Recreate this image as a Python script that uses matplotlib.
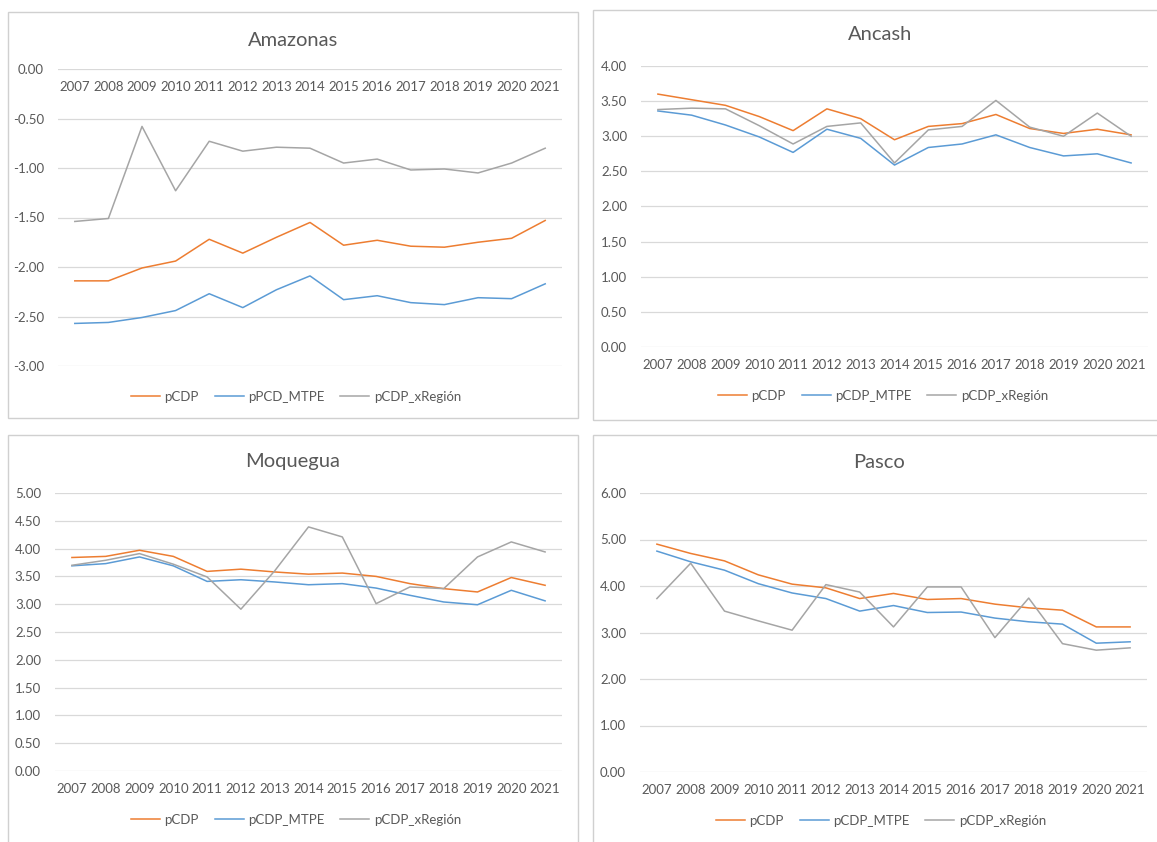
import matplotlib
matplotlib.use("Agg")
import matplotlib.pyplot as plt
from matplotlib.patches import Rectangle

plt.rcParams['font.family'] = ['Lato', 'DejaVu Sans']

years = [str(y) for y in range(2007, 2022)]

# Amazonas
amaz_pcdp = [-2.14, -2.14, -2.01, -1.94, -1.72, -1.86, -1.70, -1.55, -1.78, -1.73, -1.79, -1.80, -1.75, -1.71, -1.53]
amaz_mtpe = [-2.57, -2.56, -2.51, -2.44, -2.27, -2.41, -2.23, -2.09, -2.33, -2.29, -2.36, -2.38, -2.31, -2.32, -2.17]
amaz_xreg = [-1.54, -1.51, -0.58, -1.23, -0.73, -0.83, -0.79, -0.80, -0.95, -0.91, -1.02, -1.01, -1.05, -0.95, -0.80]

# Ancash
anca_pcdp = [3.60, 3.52, 3.44, 3.28, 3.08, 3.39, 3.25, 2.95, 3.14, 3.18, 3.31, 3.11, 3.04, 3.10, 3.02]
anca_mtpe = [3.36, 3.30, 3.16, 2.99, 2.77, 3.10, 2.97, 2.59, 2.84, 2.89, 3.02, 2.84, 2.72, 2.75, 2.62]
anca_xreg = [3.38, 3.40, 3.39, 3.15, 2.89, 3.14, 3.19, 2.62, 3.09, 3.14, 3.51, 3.13, 3.00, 3.33, 3.00]

# Moquegua
moqu_pcdp = [3.84, 3.86, 3.97, 3.86, 3.59, 3.63, 3.58, 3.54, 3.56, 3.50, 3.37, 3.28, 3.22, 3.48, 3.34]
moqu_mtpe = [3.69, 3.73, 3.85, 3.69, 3.41, 3.44, 3.40, 3.35, 3.37, 3.29, 3.16, 3.04, 2.99, 3.25, 3.06]
moqu_xreg = [3.70, 3.79, 3.91, 3.72, 3.49, 2.91, 3.60, 4.39, 4.21, 3.01, 3.31, 3.28, 3.85, 4.12, 3.94]

# Pasco
pasc_pcdp = [4.90, 4.70, 4.54, 4.24, 4.04, 3.96, 3.73, 3.84, 3.71, 3.73, 3.61, 3.53, 3.48, 3.12, 3.12]
pasc_mtpe = [4.75, 4.52, 4.34, 4.05, 3.85, 3.73, 3.46, 3.58, 3.43, 3.44, 3.31, 3.23, 3.18, 2.77, 2.80]
pasc_xreg = [3.73, 4.49, 3.46, 3.25, 3.05, 4.03, 3.87, 3.12, 3.98, 3.98, 2.89, 3.74, 2.76, 2.62, 2.67]

ORANGE, BLUE, GRAY = '#ED7D31', '#5B9BD5', '#A5A5A5'
TXT = '#595959'
GRID = '#D9D9D9'
FS = 9.5

W, H = 1157, 842
fig = plt.figure(figsize=(W / 100, H / 100), dpi=100)


def px_axes(x0, x1, ytop, ybot):
    return fig.add_axes([x0 / W, 1 - ybot / H, (x1 - x0) / W, (ybot - ytop) / H])


def frame(x0, y0, x1, y1):
    fig.patches.append(Rectangle((x0 / W, 1 - y1 / H), (x1 - x0) / W, (y1 - y0) / H,
                                 transform=fig.transFigure, fill=False,
                                 edgecolor='#D0D0D0', lw=1.0))


panels = [
    # title, series, labels, ylim, step, axes box (x0, x1, ytop, ybot), title pos, legend pos, frame, years at zero
    ("Amazonas", (amaz_pcdp, amaz_mtpe, amaz_xreg), ["pCDP", "pPCD_MTPE", "pCDP_xRegión"],
     (-3, 0), 0.5, (58, 562, 69, 366), (293, 40), (296, 397), (8, 12, 578, 418), True),
    ("Ancash", (anca_pcdp, anca_mtpe, anca_xreg), ["pCDP", "pCDP_MTPE", "pCDP_xRegión"],
     (0, 4), 0.5, (641, 1148, 66, 347), (880, 35), (883, 396), (593, 10, 1160, 420), False),
    ("Moquegua", (moqu_pcdp, moqu_mtpe, moqu_xreg), ["pCDP", "pCDP_MTPE", "pCDP_xRegión"],
     (0, 5), 0.5, (55, 562, 493, 771), (293, 461), (296, 820), (8, 435, 578, 845), False),
    ("Pasco", (pasc_pcdp, pasc_mtpe, pasc_xreg), ["pCDP", "pCDP_MTPE", "pCDP_xRegión"],
     (0, 6), 1.0, (640, 1147, 493, 772), (879, 462), (881, 821), (593, 435, 1160, 845), False),
]

for title, series, labels, ylim, step, box, tpos, lpos, fr, at_zero in panels:
    frame(*fr)
    ax = px_axes(*box)
    x = list(range(len(years)))
    handles = []
    for vals, col, lab in zip(series, (ORANGE, BLUE, GRAY), labels):
        h, = ax.plot(x, vals, color=col, lw=1.1, label=lab, zorder=3)
        handles.append(h)
    ax.set_xlim(-0.5, len(years) - 0.5)
    ax.set_ylim(*ylim)
    n = int(round((ylim[1] - ylim[0]) / step))
    ticks = [ylim[0] + i * step for i in range(n + 1)]
    ax.set_yticks(ticks)
    ax.set_yticklabels([f"{t:.2f}" for t in ticks])
    ax.yaxis.grid(True, color=GRID, lw=0.9)
    ax.set_axisbelow(True)
    ax.tick_params(axis='y', length=0, pad=10, labelsize=FS, labelcolor=TXT)
    ax.set_xticks([])
    for s in ax.spines.values():
        s.set_visible(False)
    base = 0 if at_zero else ylim[0]
    for i, yr in enumerate(years):
        ax.annotate(yr, (i, base), xytext=(0, -13), textcoords='offset points',
                    ha='center', va='center', fontsize=FS, color=TXT, clip_on=False)
    fig.text(tpos[0] / W, 1 - tpos[1] / H, title, ha='center', va='center',
             fontsize=14.5, color=TXT)
    fig.legend(handles=handles, labels=labels, loc='center',
               bbox_to_anchor=(lpos[0] / W, 1 - lpos[1] / H), ncol=3, frameon=False,
               fontsize=FS, labelcolor=TXT, handlelength=2.2, handletextpad=0.35,
               columnspacing=1.2)

fig.savefig("out.png", dpi=100, facecolor='white')
